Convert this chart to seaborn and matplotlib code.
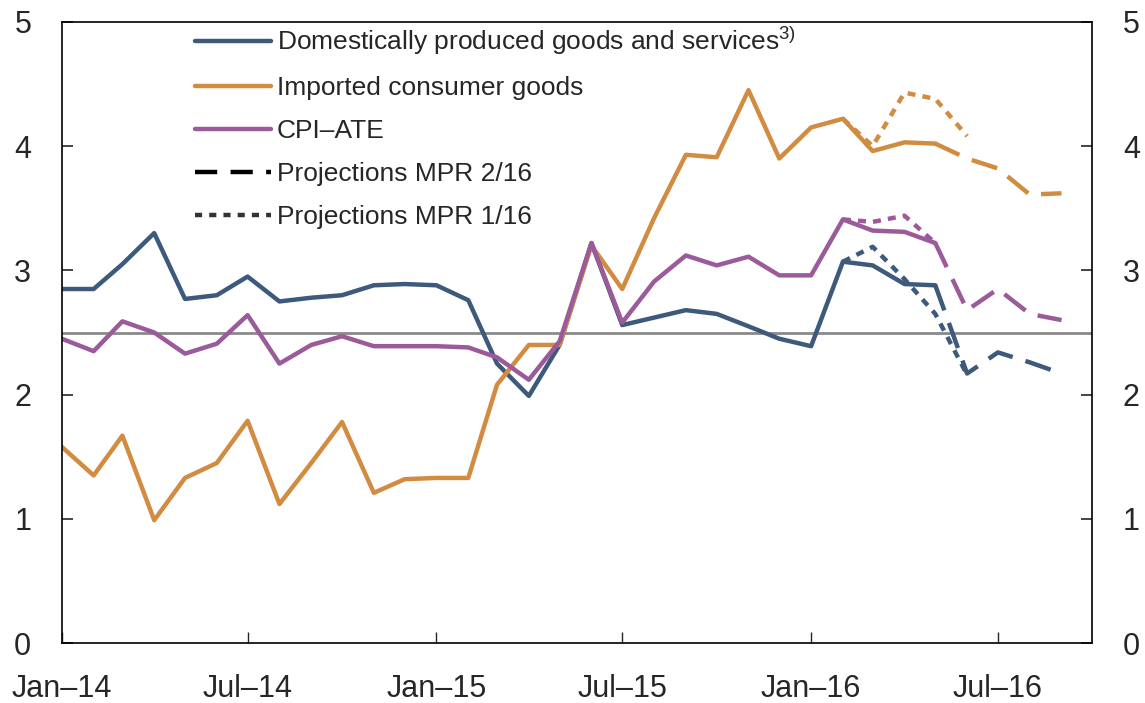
import numpy as np
import pandas as pd
import matplotlib
matplotlib.use("Agg")
import matplotlib.pyplot as plt
from matplotlib.lines import Line2D
import seaborn as sns

sns.set_style("ticks")
plt.rcParams['font.family'] = ['Liberation Sans', 'DejaVu Sans']
plt.rcParams['mathtext.fontset'] = 'custom'
plt.rcParams['mathtext.rm'] = 'Liberation Sans'
plt.rcParams['mathtext.it'] = 'Liberation Sans'

# monthly history, Jan-14 .. May-16
hist_dates = pd.date_range("2014-01-01", "2016-05-01", freq="MS")
domestic = [2.85, 2.85, 3.05, 3.30, 2.77, 2.80, 2.95, 2.75, 2.78, 2.80,
            2.88, 2.89, 2.88, 2.76, 2.25, 1.99, 2.40, 3.22, 2.56, 2.62,
            2.68, 2.65, 2.55, 2.45, 2.39, 3.07, 3.04, 2.89, 2.88]
imported = [1.58, 1.35, 1.67, 0.99, 1.33, 1.45, 1.79, 1.12, 1.45, 1.78,
            1.21, 1.32, 1.33, 1.33, 2.08, 2.40, 2.40, 3.20, 2.85, 3.42,
            3.93, 3.91, 4.45, 3.90, 4.15, 4.22, 3.96, 4.03, 4.02]
cpi_ate = [2.45, 2.35, 2.59, 2.50, 2.33, 2.41, 2.64, 2.25, 2.40, 2.47,
           2.39, 2.39, 2.39, 2.38, 2.30, 2.12, 2.43, 3.22, 2.58, 2.91,
           3.12, 3.04, 3.11, 2.96, 2.96, 3.41, 3.32, 3.31, 3.22]

# projections MPR 2/16, May-16 .. Sep-16
mpr2_dates = pd.date_range("2016-05-01", "2016-09-01", freq="MS")
mpr2_domestic = [2.88, 2.17, 2.34, 2.26, 2.17]
mpr2_imported = [4.02, 3.90, 3.82, 3.61, 3.62]
mpr2_cpi = [3.22, 2.68, 2.85, 2.65, 2.60]

# projections MPR 1/16
mpr1_dates = pd.date_range("2016-02-01", "2016-06-01", freq="MS")
mpr1_domestic = [3.07, 3.19, 2.93, 2.65, 2.16]
mpr1_imported = [4.22, 4.00, 4.43, 4.38, 4.08]
mpr1_cpi = [3.41, 3.39, 3.44, 3.22, np.nan]

c_dom = "#3d5a7c"
c_imp = "#d28c42"
c_cpi = "#9b5b9b"
lw = 3.2
dash = (0, (6, 3))
dot = (0, (1.8, 1.6))

fig = plt.figure(figsize=(11.45, 7.03), dpi=100)
ax = fig.add_axes([0.054, 0.085, 0.900, 0.884])

ax.axhline(2.5, color="#8a8a8a", lw=2, zorder=1)

for vals, c in [(domestic, c_dom), (imported, c_imp), (cpi_ate, c_cpi)]:
    sns.lineplot(x=hist_dates, y=vals, color=c, lw=lw, ax=ax)
for vals, c in [(mpr2_domestic, c_dom), (mpr2_imported, c_imp), (mpr2_cpi, c_cpi)]:
    sns.lineplot(x=mpr2_dates, y=vals, color=c, lw=lw, linestyle=dash, ax=ax)
for vals, c in [(mpr1_domestic, c_dom), (mpr1_imported, c_imp), (mpr1_cpi, c_cpi)]:
    sns.lineplot(x=mpr1_dates, y=vals, color=c, lw=lw, linestyle=dot, ax=ax)

ax.set_xlim(pd.Timestamp("2014-01-01"), pd.Timestamp("2016-10-01"))
ax.set_ylim(0, 5)
ax.set_yticks(range(6))
tick_dates = pd.to_datetime(["2014-01-01", "2014-07-01", "2015-01-01",
                             "2015-07-01", "2016-01-01", "2016-07-01"])
ax.set_xticks(tick_dates)
ax.set_xticklabels(["Jan\u201314", "Jul\u201314", "Jan\u201315",
                    "Jul\u201315", "Jan\u201316", "Jul\u201316"])
ax.set_xlabel("")
ax.set_ylabel("")
ax.tick_params(axis="y", direction="in", length=8, width=1.2, labelsize=22,
               left=True, right=True, labelleft=True, labelright=True, pad=22)
ax.tick_params(axis="x", direction="in", length=8, width=1, labelsize=22, pad=22)
for s in ax.spines.values():
    s.set_visible(True)
    s.set_linewidth(1.2)
    s.set_color("black")

handles = [
    Line2D([], [], color=c_dom, lw=lw),
    Line2D([], [], color=c_imp, lw=lw),
    Line2D([], [], color=c_cpi, lw=lw),
    Line2D([], [], color="black", lw=lw, linestyle=(0, (5, 3))),
    Line2D([], [], color="#333333", lw=lw, linestyle=(0, (1.6, 1.6))),
]
labels = ["Domestically produced goods and services$^{3)}$",
          "Imported consumer goods", "CPI\u2013ATE",
          "Projections MPR 2/16", "Projections MPR 1/16"]
ax.legend(handles, labels, loc="upper left", bbox_to_anchor=(0.129, 0.995),
          frameon=False, fontsize=19, handlelength=2.9, handletextpad=0.2,
          labelspacing=0.72, borderaxespad=0, borderpad=0)

fig.savefig("out.png", dpi=100)
